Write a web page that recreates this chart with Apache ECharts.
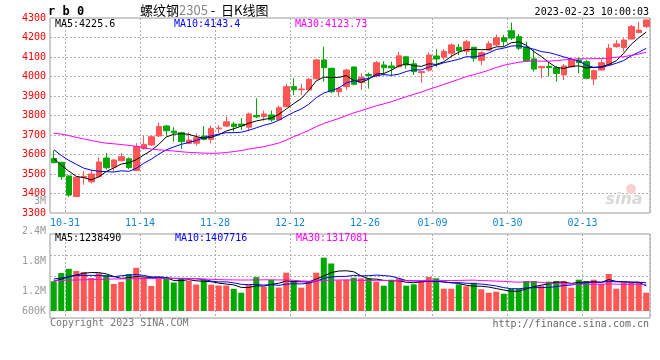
<!DOCTYPE html>
<html><head><meta charset="utf-8">
<script src="https://cdn.jsdelivr.net/npm/echarts@6/dist/echarts.min.js"></script>
<style>html,body{margin:0;padding:0;background:#fff}#c{width:660px;height:360px}</style>
</head><body><div id="c"></div>
<script>
const dates = ['10-27','10-28','10-31','11-01','11-02','11-03','11-04','11-07','11-08','11-09','11-10','11-11','11-14','11-15','11-16','11-17','11-18','11-21','11-22','11-23','11-24','11-25','11-28','11-29','11-30','12-01','12-02','12-05','12-06','12-07','12-08','12-09','12-12','12-13','12-14','12-15','12-16','12-19','12-20','12-21','12-22','12-23','12-26','12-27','12-28','12-29','12-30','01-03','01-04','01-05','01-06','01-09','01-10','01-11','01-12','01-13','01-16','01-17','01-18','01-19','01-20','01-30','01-31','02-01','02-02','02-03','02-06','02-07','02-08','02-09','02-10','02-13','02-14','02-15','02-16','02-17','02-20','02-21','02-22','02-23'];
const labelDates = ['10-31','11-14','11-28','12-12','12-26','01-09','01-30','02-13'];

const opens  = [3580,3560,3490,3385,3483,3460,3487,3582,3535,3568,3578,3518,3630,3649,3695,3746,3720,3712,3657,3658,3695,3678,3732,3746,3756,3756,3740,3800,3795,3803,3778,3845,3948,3932,3931,3988,4085,4042,3922,3948,4049,3970,4010,4003,4059,4054,4050,4101,4065,4020,4033,4105,4099,4119,4150,4130,4150,4083,4135,4162,4199,4235,4204,4150,4090,4045,4052,4045,4008,4050,4085,4076,3987,4033,4059,4153,4148,4192,4225,4256];
const closes = [3558,3486,3392,3483,3488,3500,3562,3532,3572,3589,3533,3640,3652,3691,3743,3722,3712,3666,3674,3686,3678,3734,3736,3768,3743,3747,3808,3793,3808,3778,3840,3948,3932,3936,3986,4085,4045,3922,3939,4033,3960,3995,4005,4071,4045,4044,4106,4059,4025,4025,4110,4090,4129,4162,4132,4178,4094,4122,4168,4199,4180,4197,4145,4081,4038,4052,4046,4016,4054,4088,4071,3991,4030,4071,4145,4167,4187,4256,4238,4290];
const lows   = [3555,3470,3383,3383,3445,3452,3483,3524,3513,3565,3525,3515,3625,3645,3690,3697,3666,3628,3652,3645,3672,3657,3710,3740,3717,3726,3720,3786,3773,3768,3772,3843,3905,3905,3928,3985,3973,3915,3896,3930,3955,3931,3938,3995,4005,4004,4045,4040,4008,3968,4025,4050,4085,4097,4110,4110,4076,4059,4130,4155,4153,4187,4136,4076,4025,3991,4000,3973,3982,4045,4016,3985,3956,4030,4055,4148,4128,4190,4222,4248];
const highs  = [3620,3563,3492,3485,3515,3520,3585,3608,3575,3608,3585,3658,3697,3697,3763,3752,3740,3717,3712,3708,3746,3750,3751,3794,3767,3786,3815,3888,3825,3825,3850,3962,3991,3962,3991,4090,4153,4045,3948,4040,4050,4017,4020,4080,4078,4076,4127,4104,4086,4027,4124,4140,4141,4170,4167,4189,4152,4130,4182,4216,4213,4277,4218,4178,4136,4054,4076,4055,4064,4094,4098,4085,4035,4088,4167,4187,4196,4264,4281,4292];
const volumes = [1485000,1900000,2110000,2000000,1950000,1650000,1890000,1800000,1350000,1460000,1850000,2160000,1675000,1250000,1600000,1665000,1425000,1635000,1500000,1325000,1550000,1315000,1275000,1275000,1110000,915000,1300000,1690000,1210000,1550000,1175000,1915000,1500000,1165000,1500000,1915000,2665000,2375000,1535000,1565000,1665000,1635000,1635000,1465000,1265000,1565000,1635000,1265000,1335000,1500000,1700000,1635000,1115000,1115000,1335000,1235000,1415000,1085000,915000,965000,865000,1100000,1100000,1500000,1500000,1265000,1465000,1500000,1500000,1165000,1565000,1500000,1565000,1365000,1850000,1115000,1435000,1400000,1400000,915000];

// moving-average values before a full window is available
const ma5Head  = [3580,3545,3515,3488];
const ma10Head = [3625,3595,3570,3550,3530,3520,3514,3512,3510];
const ma30Head = [3709,3705,3697,3688,3680,3672,3664,3658,3655,3651,3647,3642,3635,3628,3624,3621,3618,3614,3611,3609,3607,3606,3607,3610,3615,3620,3628,3634,3640];
const vma5Head  = [1500000,1585000,1715000,1800000];
const vma10Head = [1600000,1650000,1715000,1780000,1780000,1780000,1780000,1750000,1715000];
const vma30Head = [1515000,1525000,1540000,1550000,1560000,1570000,1580000,1590000,1600000,1605000,1610000,1615000,1620000,1625000,1630000,1632000,1635000,1635000,1630000,1620000,1600000,1585000,1570000,1560000,1555000,1550000,1550000,1555000,1560000];

const priceMin = 3300, priceMax = 4300, priceStep = 100;
const volTickLabels = ['600K','1.2M','1.8M','2.4M'];
const priceLegend = ['MA5:4225.6','MA10:4143.4','MA30:4123.73'];
const volLegend = ['MA5:1238490','MA10:1407716','MA30:1317081'];

function movingAvg(src, n, head) {
  return src.map((v, i) => {
    if (i < n - 1) return head[i];
    let s = 0; for (let k = i - n + 1; k <= i; k++) s += src[k];
    return +(s / n).toFixed(2);
  });
}

const MONO = '"DejaVu Sans Mono", monospace';
const upColor = '#ff5555', downColor = '#00a800';
const isLabel = (i) => labelDates.indexOf(dates[i]) >= 0;
const dotted = { color: '#b0b0b0', width: 1, type: [2, 2] };

const candleData = opens.map((o, i) => [o, closes[i], lows[i], highs[i]]);
const volData = volumes.map((v, i) => ({ value: v, itemStyle: { color: closes[i] >= opens[i] ? upColor : downColor } }));

function txt(x, y, text, fill, font, align) {
  return { type: 'text', x: x, y: y, z: 100, silent: true,
    style: { text: text, fill: fill, font: font, align: align || 'left', textAlign: align || 'left', verticalAlign: 'middle', textVerticalAlign: 'middle' } };
}

const chart = echarts.init(document.getElementById('c'));
chart.setOption({
  animation: false,
  backgroundColor: '#fff',
  title: {
    text: '{a|螺纹钢}{b|2305}{a| -  日K线图}',
    left: 140, top: 4, padding: 0,
    textStyle: { fontWeight: 'normal', rich: {
      a: { fontSize: 13, color: '#000', fontWeight: 'normal', fontFamily: '"Noto Sans CJK SC"' },
      b: { fontSize: 13, color: '#888', fontWeight: 'normal', fontFamily: '"Noto Sans CJK SC"' }
    } }
  },
  grid: [
    { left: 50, top: 18, width: 600, height: 195, show: true, borderColor: '#999', borderWidth: 1 },
    { left: 50, top: 234, width: 600, height: 84, show: true, borderColor: '#999', borderWidth: 1 },
    { left: 50, top: 234, width: 600, height: 77 },
    { left: 50, top: 231, width: 600, height: 90 }
  ],
  xAxis: [
    { type: 'category', gridIndex: 0, data: dates, boundaryGap: true,
      axisLine: { show: false }, axisTick: { show: false },
      axisLabel: { interval: (i) => isLabel(i), color: '#1585d6', fontFamily: MONO, fontSize: 10, margin: 5, padding: [0, 7.5, 0, 0] },
      splitLine: { show: true, interval: (i) => isLabel(i), lineStyle: dotted } },
    { type: 'category', gridIndex: 1, data: dates, boundaryGap: true,
      axisLine: { show: false }, axisTick: { show: false }, axisLabel: { show: false },
      splitLine: { show: true, interval: (i) => isLabel(i), lineStyle: dotted } },
    { type: 'category', gridIndex: 2, data: dates, boundaryGap: true, show: false },
    { type: 'category', gridIndex: 3, data: dates, boundaryGap: true, show: false }
  ],
  yAxis: [
    { type: 'value', gridIndex: 0, min: priceMin, max: priceMax, interval: priceStep,
      axisLine: { show: false }, axisTick: { show: false },
      axisLabel: { color: '#f00', fontFamily: MONO, fontSize: 10, margin: 4, formatter: (v) => String(v) },
      splitLine: { show: true, showMinLine: false, showMaxLine: false, lineStyle: dotted } },
    { type: 'value', gridIndex: 1, min: 0, max: 4, interval: 1,
      axisLine: { show: false }, axisTick: { show: false }, axisLabel: { show: false },
      splitLine: { show: true, showMinLine: false, showMaxLine: false, lineStyle: dotted } },
    { type: 'value', gridIndex: 2, min: 0, max: 3850000, show: false, splitLine: { show: false } },
    { type: 'value', gridIndex: 3, min: 600000, max: 2400000, interval: 600000,
      axisLine: { show: false }, axisTick: { show: false }, splitLine: { show: false },
      axisLabel: { margin: 4, color: '#999', fontFamily: MONO, fontSize: 10,
        formatter: (v) => { const k = Math.round(v / 600000) - 1; const s = volTickLabels[k]; return k === 0 ? '{lo|' + s + '}' : s; },
        rich: { lo: { padding: [0, 0, 20, 0], color: '#999', fontFamily: MONO, fontSize: 10 } } } }
  ],
  series: [
    { type: 'candlestick', xAxisIndex: 0, yAxisIndex: 0, data: candleData, barWidth: 6,
      itemStyle: { color: upColor, color0: downColor, borderColor: upColor, borderColor0: downColor, borderWidth: 1 } },
    { type: 'line', xAxisIndex: 0, yAxisIndex: 0, data: movingAvg(closes, 5, ma5Head), symbol: 'none', z: 5, lineStyle: { color: '#000', width: 1 } },
    { type: 'line', xAxisIndex: 0, yAxisIndex: 0, data: movingAvg(closes, 10, ma10Head), symbol: 'none', z: 5, lineStyle: { color: '#0000ff', width: 1 } },
    { type: 'line', xAxisIndex: 0, yAxisIndex: 0, data: movingAvg(closes, 30, ma30Head), symbol: 'none', z: 5, lineStyle: { color: '#ff00ff', width: 1 } },
    { type: 'bar', xAxisIndex: 2, yAxisIndex: 2, data: volData, barWidth: 6 },
    { type: 'line', xAxisIndex: 2, yAxisIndex: 2, data: movingAvg(volumes, 5, vma5Head), symbol: 'none', z: 5, lineStyle: { color: '#000', width: 1 } },
    { type: 'line', xAxisIndex: 2, yAxisIndex: 2, data: movingAvg(volumes, 10, vma10Head), symbol: 'none', z: 5, lineStyle: { color: '#0000ff', width: 1 } },
    { type: 'line', xAxisIndex: 2, yAxisIndex: 2, data: movingAvg(volumes, 30, vma30Head), symbol: 'none', z: 5, lineStyle: { color: '#ff00ff', width: 1 } }
  ],
  graphic: [
    txt(48, 11.5, 'r b 0', '#000', 'bold 12px ' + MONO),
    txt(649, 12, '2023-02-23 10:00:03', '#000', '10px ' + MONO, 'right'),
    txt(55, 24.5, priceLegend[0], '#000', '10px ' + MONO),
    txt(174, 24.5, priceLegend[1], '#0000ff', '10px ' + MONO),
    txt(295, 24.5, priceLegend[2], '#ff00ff', '10px ' + MONO),
    txt(55, 238.5, volLegend[0], '#000', '10px ' + MONO),
    txt(175, 238.5, volLegend[1], '#0000ff', '10px ' + MONO),
    txt(296, 238.5, volLegend[2], '#ff00ff', '10px ' + MONO),
    txt(46, 201, '3M', '#999', '10px ' + MONO, 'right'),
    txt(50, 323.5, 'Copyright 2023 SINA.COM', '#777', '10px ' + MONO),
    txt(649, 324, 'http://finance.sina.com.cn', '#666', '10px ' + MONO, 'right'),
    { type: 'circle', z: 1, silent: true, shape: { cx: 631, cy: 189, r: 5 }, style: { fill: '#f8d0d0' } },
    txt(624, 200, 'sina', '#d8d8d8', 'italic bold 16px "DejaVu Sans"', 'center')
  ]
});
</script></body></html>
